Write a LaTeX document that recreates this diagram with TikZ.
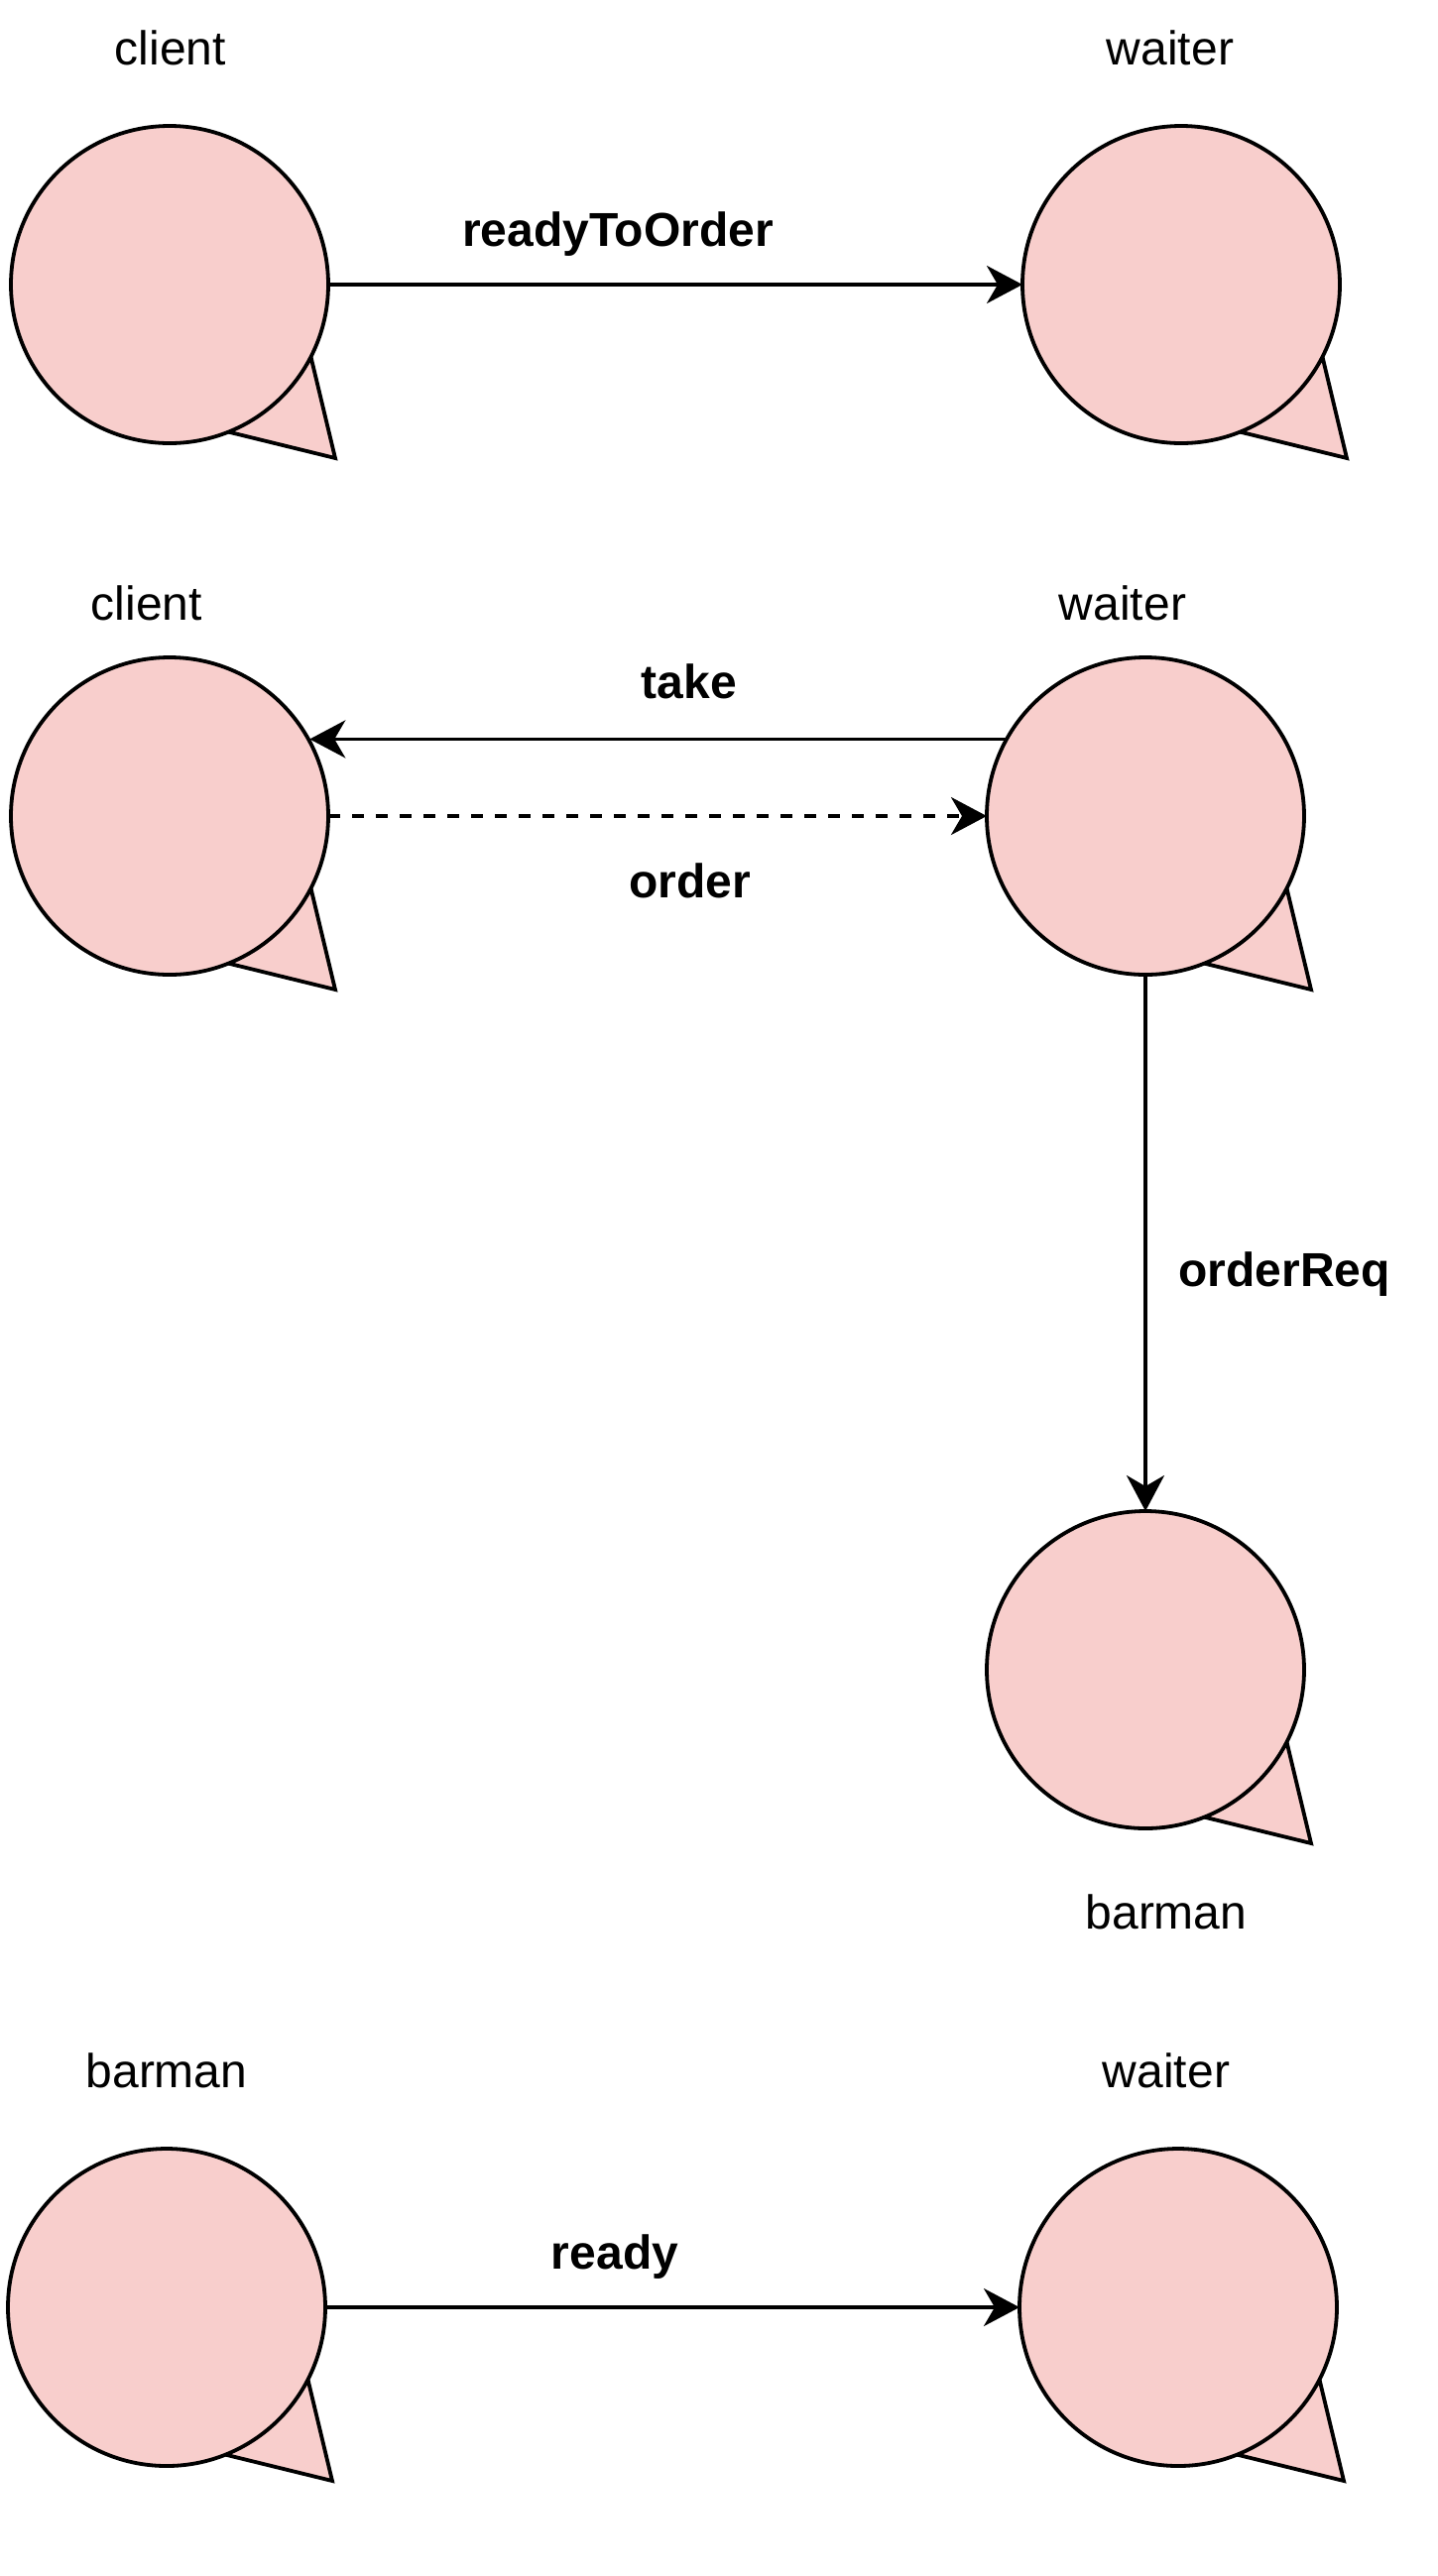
\documentclass[tikz,border=0pt]{standalone}
\usepackage{fontspec}
\setmainfont{Liberation Sans}
\usetikzlibrary{arrows.meta}
\definecolor{bubblefill}{HTML}{F8CECC}
\tikzset{
    bubble/.style={circle, draw=black, fill=bubblefill, line width=1.9pt, minimum size=160pt, inner sep=0pt, outer sep=0pt},
    bubbletail/.style={draw=black, fill=bubblefill, line width=1.9pt, miter limit=10},
    rolename/.style={anchor=base, inner sep=0pt, font=\fontsize{24}{28}\selectfont},
    msgname/.style={anchor=base, inner sep=0pt, font=\fontsize{24}{28}\selectfont\bfseries},
    msg/.style={draw=black, line width=1.9pt, -{Stealth[length=18pt, width=19pt, inset=5.5pt]}},
    msgdash/.style={msg, dash pattern=on 6pt off 6pt}
}
% tail first, so that the circle covers its inner end
\newcommand{\speechbubble}[2]{
        \filldraw[bubbletail, shift={(#2)}] (143,75) -- (167,175) -- (61,149) -- cycle;
        \node[bubble] (#1) at (#2) {};
}

\begin{document}
\begin{tikzpicture}[x=0.5pt, y=-0.5pt]
        \useasboundingbox (0,0) rectangle (1450,2598);
        \speechbubble{clientA}{171,287}
        \speechbubble{waiterA}{1191,287}
        \speechbubble{clientB}{171,823}
        \speechbubble{waiterB}{1155,823}
        \speechbubble{barmanB}{1155,1684}
        \speechbubble{barmanC}{168,2327}
        \speechbubble{waiterC}{1188,2327}
        \node[rolename] (nameclientA) at (172,65) {client};
        \node[rolename] (namewaiterA) at (1180,65) {waiter};
        \node[rolename] (nameclientB) at (148,625) {client};
        \node[rolename] (namewaiterB) at (1132,625) {waiter};
        \node[rolename] (namebarmanB) at (1176,1945) {barman};
        \node[rolename] (namebarmanC) at (168,2105) {barman};
        \node[rolename] (namewaiterC) at (1176,2105) {waiter};
        \draw[msg] (clientA.east) -- (waiterA.west);
        \draw[msg] (waiterB.151.3) -- (waiterB.151.3 -| clientB.28.7);
        \draw[msgdash] (clientB.east) -- (waiterB.west);
        \draw[msg] (waiterB.south) -- (barmanB.north);
        \draw[msg] (barmanC.east) -- (waiterC.west);
        \node[msgname] (readyToOrder) at (623,248) {readyToOrder};
        \node[msgname] (take) at (695,704) {take};
        \node[msgname] (order) at (696,905) {order};
        \node[msgname] (orderReq) at (1295,1297) {orderReq};
        \node[msgname] (ready) at (620,2288) {ready};
\end{tikzpicture}
\end{document}
